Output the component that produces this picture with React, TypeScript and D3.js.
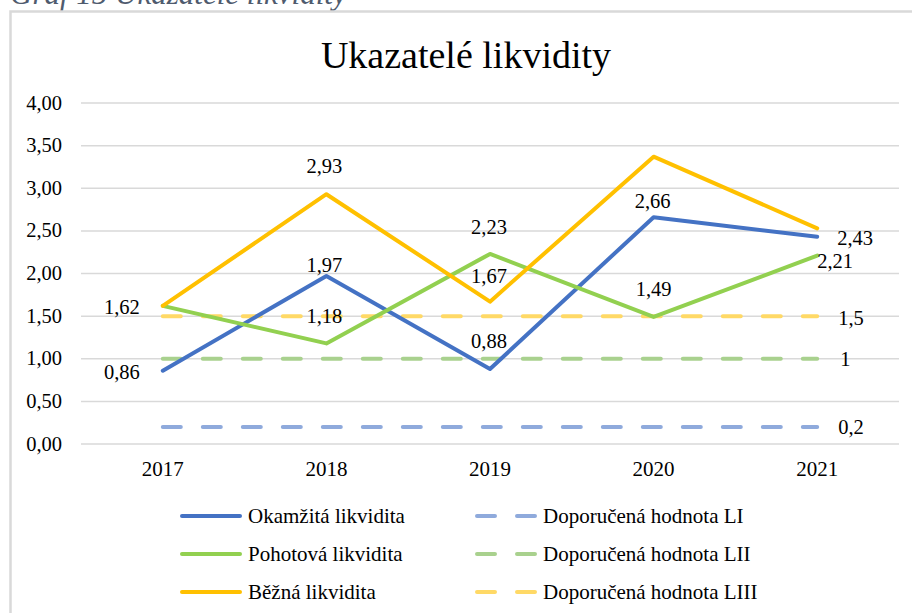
import React from "react";
import * as d3 from "d3";

const years = ["2017", "2018", "2019", "2020", "2021"];
const okamzita = [0.86, 1.97, 0.88, 2.66, 2.43];
const pohotova = [1.62, 1.18, 2.23, 1.49, 2.21];
const bezna = [1.62, 2.93, 1.67, 3.37, 2.53];
const doporLI = [0.2, 0.2, 0.2, 0.2, 0.2];
const doporLII = [1, 1, 1, 1, 1];
const doporLIII = [1.5, 1.5, 1.5, 1.5, 1.5];
const yTicks = [0, 0.5, 1, 1.5, 2, 2.5, 3, 3.5, 4];

const seriesNames = [
  "Okamžitá likvidita",
  "Doporučená hodnota LI",
  "Pohotová likvidita",
  "Doporučená hodnota LII",
  "Běžná likvidita",
  "Doporučená hodnota LIII",
];

// which points carry a data label: [seriesIndex, pointIndex, text]
const labelList: [number, number, string][] = [
  [0, 0, "0,86"],
  [0, 1, "1,97"],
  [0, 2, "0,88"],
  [0, 3, "2,66"],
  [0, 4, "2,43"],
  [2, 0, "1,62"],
  [2, 1, "1,18"],
  [2, 2, "2,23"],
  [2, 3, "1,49"],
  [2, 4, "2,21"],
  [4, 1, "2,93"],
  [4, 2, "1,67"],
  [1, 4, "0,2"],
  [3, 4, "1"],
  [5, 4, "1,5"],
];
// label placement: [dx, dy(center), anchor]
const labelPlace: [number, number, string][] = [
  [-23, 2, "end"],
  [-2, -11, "middle"],
  [-1, -27, "middle"],
  [-1, -16, "middle"],
  [20, 2, "start"],
  [-23, 2, "end"],
  [-2, -27, "middle"],
  [-1, -26, "middle"],
  [0, -27, "middle"],
  [0, 6, "start"],
  [-2, -28, "middle"],
  [-1, -25, "middle"],
  [21, 1, "start"],
  [23, 1, "start"],
  [21, 2, "start"],
];

const W = 912;
const H = 613;
const FONT = "'Liberation Serif', 'Times New Roman', serif";

export default function App() {
  const data = [okamzita, doporLI, pohotova, doporLII, bezna, doporLIII];
  const colors = ["#4472C4", "#8FAADC", "#92D050", "#A9D18E", "#FFC000", "#FFD966"];
  const dashed = [false, true, false, true, false, true];
  const drawOrder = [1, 3, 5, 0, 2, 4];

  const x = d3.scalePoint<string>().domain(years).range([81, 899]).padding(0.5);
  const y = d3.scaleLinear().domain([0, 4]).range([444, 103]);
  const line = d3
    .line<number>()
    .x((_, i) => x(years[i]) as number)
    .y((d) => y(d));

  const fmt = (v: number) => d3.format(".2f")(v).replace(".", ",");
  const fs = 20.5;
  const lfs = 21;

  const legendCols = [180, 475];
  const legendRows = [516, 554, 592];

  return (
    <svg
      width={W}
      height={H}
      style={{ position: "absolute", left: 0, top: 0, background: "#fff" }}
      fontFamily={FONT}
    >
      <text x={10} y={4} fontSize={31} fontStyle="italic" fill="#4F5B6E">
        Graf 15 Ukazatele likvidity
      </text>
      <path d={`M10.5,${H + 5} V11.5 H${W + 5}`} fill="none" stroke="#D9D9D9" strokeWidth={2.5} />
      <text x={466} y={68} fontSize={38} textAnchor="middle" fill="#000">
        Ukazatelé likvidity
      </text>
      {yTicks.map((t) => (
        <g key={t}>
          <line x1={81} x2={899} y1={y(t)} y2={y(t)} stroke="#D9D9D9" strokeWidth={1.5} />
          <text x={62} y={y(t) + 6.5} fontSize={fs} textAnchor="end" fill="#000">
            {fmt(t)}
          </text>
        </g>
      ))}
      {years.map((yr) => (
        <text key={yr} x={x(yr)} y={476} fontSize={lfs} textAnchor="middle" fill="#000">
          {yr}
        </text>
      ))}
      {drawOrder.map((i) => (
        <path
          key={i}
          d={line(data[i]) || ""}
          fill="none"
          stroke={colors[i]}
          strokeWidth={4}
          strokeLinejoin="round"
          strokeLinecap="round"
          strokeDasharray={dashed[i] ? "18 22" : undefined}
        />
      ))}
      {labelList.map(([si, pi, txt], k) => {
        const [dx, dy, anchor] = labelPlace[k];
        const px = x(years[pi]) as number;
        const py = y(data[si][pi]);
        return (
          <text
            key={k}
            x={px + dx}
            y={py + dy + 6.5}
            fontSize={fs}
            textAnchor={anchor as any}
            fill="#000"
          >
            {txt}
          </text>
        );
      })}
      {seriesNames.map((name, i) => {
        const col = i % 2;
        const row = Math.floor(i / 2);
        const lx = legendCols[col];
        const ly = legendRows[row];
        return (
          <g key={name}>
            <line
              x1={lx + 2}
              x2={lx + 60}
              y1={ly}
              y2={ly}
              stroke={colors[i]}
              strokeWidth={4}
              strokeLinecap="round"
              strokeDasharray={dashed[i] ? "18 22" : undefined}
            />
            <text x={lx + 68} y={ly + 7} fontSize={lfs} fill="#000">
              {name}
            </text>
          </g>
        );
      })}
    </svg>
  );
}
